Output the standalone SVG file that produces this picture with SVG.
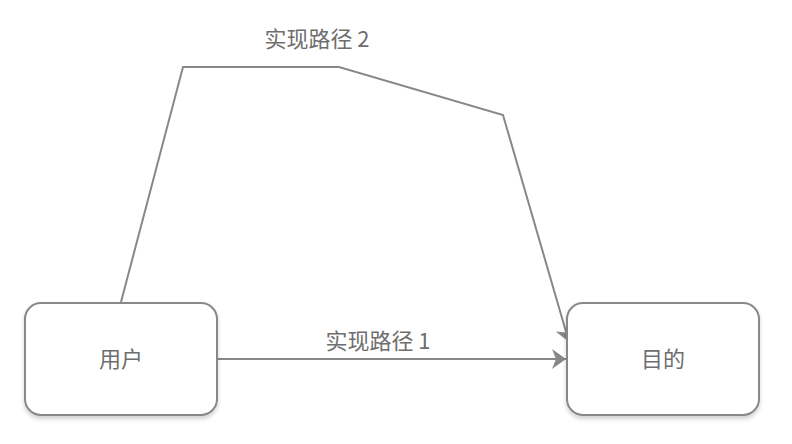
<svg xmlns="http://www.w3.org/2000/svg" width="792" height="444" viewBox="0 0 792 444">
<style>
.node rect{fill:#ffffff;stroke:#888888;stroke-width:2;}
.t{font-family:"Noto Sans CJK SC","Liberation Sans",sans-serif;font-size:22px;fill:#6e6e6e;text-anchor:middle;}
.edge{fill:none;stroke:#888888;stroke-width:2;}
</style>
<defs>
<filter id="sh" x="-10%" y="-10%" width="130%" height="130%">
<feGaussianBlur in="SourceAlpha" stdDeviation="2"/>
<feOffset dx="0" dy="3"/>
<feComponentTransfer><feFuncA type="linear" slope="0.18"/></feComponentTransfer>
<feMerge><feMergeNode/><feMergeNode in="SourceGraphic"/></feMerge>
</filter>
<marker id="arr" viewBox="0 0 14 20" refX="14" refY="10" markerWidth="14" markerHeight="20" markerUnits="userSpaceOnUse" orient="auto">
<path d="M0,0 L14,10 L0,20 L4,10 Z" fill="#888888"/>
</marker>
</defs>
<rect width="792" height="444" fill="#ffffff"/>
<g id="connectors">
<path class="edge" d="M217,359 L566,359" marker-end="url(#arr)"/>
<path class="edge" d="M121,302 L183,67 L339,67 L503,115 L569,342" marker-end="url(#arr)"/>
</g>
<g id="label1"><text class="t" x="378" y="349">实现路径 1</text></g>
<g id="label2"><text class="t" x="317" y="47">实现路径 2</text></g>
<g id="user" class="node">
<rect x="25" y="303" width="192" height="112" rx="16" filter="url(#sh)"/>
<text class="t" x="121" y="367">用户</text>
</g>
<g id="goal" class="node">
<rect x="567" y="303" width="192" height="112" rx="16" filter="url(#sh)"/>
<text class="t" x="663" y="367">目的</text>
</g>
</svg>
